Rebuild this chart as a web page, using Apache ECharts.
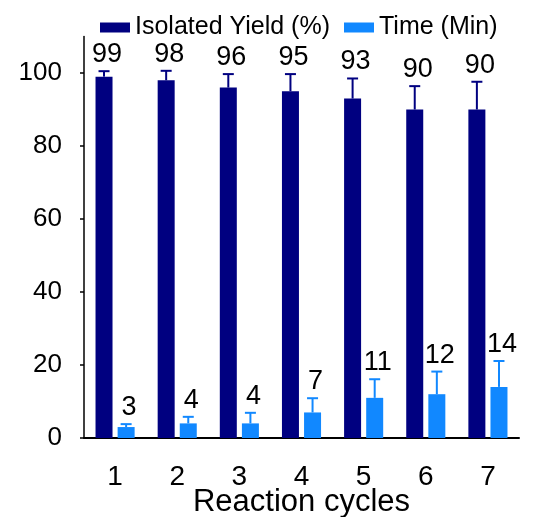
<!DOCTYPE html>
<html>
<head>
<meta charset="utf-8">
<script src="https://cdn.jsdelivr.net/npm/echarts@6/dist/echarts.min.js"></script>
<style>html,body{margin:0;padding:0;background:#fff;}#c{width:539px;height:517px;}</style>
</head>
<body>
<div id="c"></div>
<script>
var cycles = ['1', '2', '3', '4', '5', '6', '7'];
var yieldVals = [99, 98, 96, 95, 93, 90, 90];
var yieldErr = [1.5, 2.6, 3.7, 4.7, 5.5, 6.4, 7.6];
var timeVals = [3, 4, 4, 7, 11, 12, 14];
var timeErr = [0.8, 1.8, 2.9, 3.9, 5.1, 6.2, 7.1];
var yTicks = [0, 20, 40, 60, 80, 100];

var DARK = '#000080';
var LIGHT = '#1188ff';
var FONT = '"Liberation Sans", Arial, sans-serif';

function errData(vals, errs) {
  return vals.map(function (v, i) { return [i, v, v + errs[i]]; });
}

function errSeries(name, vals, errs, color, offset) {
  return {
    type: 'custom',
    name: name + ' err',
    z: 5,
    silent: true,
    encode: { x: 0, y: 2 },
    data: errData(vals, errs),
    renderItem: function (params, api) {
      var i = api.value(0);
      var base = api.coord([i, api.value(1)]);
      var top = api.coord([i, api.value(2)]);
      var x = base[0] + offset;
      var cap = 5.5;
      return {
        type: 'group',
        children: [
          { type: 'line', shape: { x1: x, y1: base[1], x2: x, y2: top[1] }, style: { stroke: color, lineWidth: 2 } },
          { type: 'line', shape: { x1: x - cap, y1: top[1], x2: x + cap, y2: top[1] }, style: { stroke: color, lineWidth: 2 } },
          { type: 'text', style: { text: String(api.value(1)), x: x + 3, y: top[1] - 3, textAlign: 'center', textVerticalAlign: 'bottom', fill: '#000', font: '27px ' + FONT } }
        ]
      };
    }
  };
}

var chart = echarts.init(document.getElementById('c'), null, { renderer: 'canvas' });
chart.setOption({
  animation: false,
  backgroundColor: '#fff',
  textStyle: { fontFamily: FONT },
  legend: {
    left: 95, top: 10,
    itemWidth: 30, itemHeight: 10, itemGap: 14,
    icon: 'rect',
    textStyle: { fontSize: 25, color: '#000', fontFamily: FONT },
    data: ['Isolated Yield (%)', 'Time (Min)']
  },
  grid: { left: 84, right: 20, top: 36.5, bottom: 79, containLabel: false, outerBoundsMode: 'none' },
  xAxis: {
    type: 'category',
    data: cycles,
    name: 'Reaction cycles',
    nameLocation: 'middle',
    nameGap: 49,
    nameMoveOverlap: false,
    nameTextStyle: { fontSize: 31, color: '#000', fontFamily: FONT },
    axisLine: { lineStyle: { color: '#000', width: 2 } },
    axisTick: { alignWithLabel: true, length: 7, lineStyle: { color: '#000', width: 2 } },
    axisLabel: { fontSize: 28, color: '#000', margin: 25, fontFamily: FONT }
  },
  yAxis: {
    type: 'value',
    min: 0, max: 110, interval: 20,
    splitLine: { show: false },
    axisLine: { show: true, lineStyle: { color: '#000', width: 1.5 } },
    axisTick: { show: true, length: 4, lineStyle: { color: '#000', width: 1.5 } },
    axisLabel: {
      fontSize: 26, color: '#000', margin: 22, fontFamily: FONT, showMaxLabel: false,
      formatter: function (v) { return yTicks.indexOf(v) >= 0 ? String(v) : ''; }
    }
  },
  series: [
    { type: 'bar', name: 'Isolated Yield (%)', data: yieldVals, barWidth: 17, barGap: '30%', itemStyle: { color: DARK } },
    { type: 'bar', name: 'Time (Min)', data: timeVals, barWidth: 17, barGap: '30%', itemStyle: { color: LIGHT } },
    errSeries('Isolated Yield (%)', yieldVals, yieldErr, DARK, -11.05),
    errSeries('Time (Min)', timeVals, timeErr, LIGHT, 11.05)
  ]
});
</script>
</body>
</html>
